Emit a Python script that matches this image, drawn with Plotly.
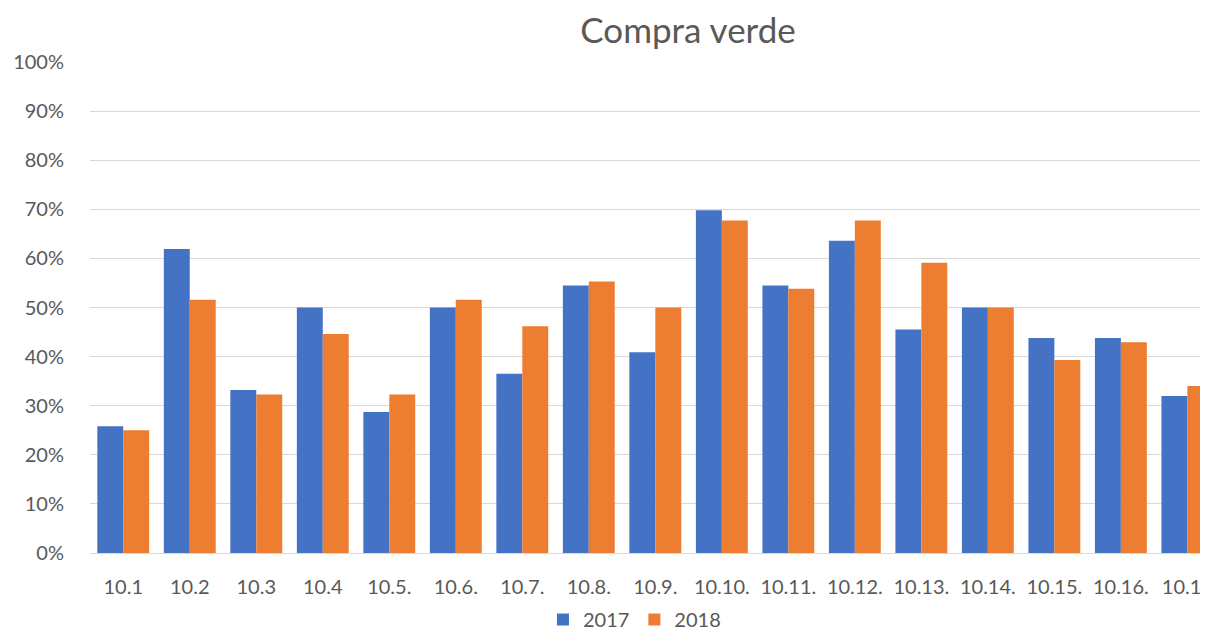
import plotly.graph_objects as go

categories = ["10.1", "10.2", "10.3", "10.4", "10.5.", "10.6.", "10.7.", "10.8.", "10.9.",
              "10.10.", "10.11.", "10.12.", "10.13.", "10.14.", "10.15.", "10.16.", "10.17"]
values_2017 = [0.258, 0.619, 0.332, 0.50, 0.287, 0.50, 0.365, 0.545, 0.409,
               0.698, 0.545, 0.636, 0.455, 0.50, 0.438, 0.438, 0.32]
values_2018 = [0.25, 0.516, 0.323, 0.446, 0.323, 0.516, 0.462, 0.553, 0.50,
               0.677, 0.538, 0.677, 0.591, 0.50, 0.393, 0.429, 0.34]
y_ticks = [0, 0.1, 0.2, 0.3, 0.4, 0.5, 0.6, 0.7, 0.8, 0.9, 1.0]
y_tick_labels = ["0%", "10%", "20%", "30%", "40%", "50%", "60%", "70%", "80%", "90%", "100%"]

FONT = "Lato, 'Open Sans', sans-serif"
GREY = "#595959"

fig = go.Figure()
fig.add_trace(go.Bar(name="2017", x=categories, y=values_2017, marker_color="#4472C4",
                     marker_line_width=0))
fig.add_trace(go.Bar(name="2018", x=categories, y=values_2018, marker_color="#ED7D31",
                     marker_line_width=0))

# page body has an 8px default margin, so the figure is 8px smaller and shifted
fig.update_layout(
    width=1200, height=624,
    margin=dict(l=82, r=0, t=54, b=79, autoexpand=False),
    paper_bgcolor="white", plot_bgcolor="white",
    barmode="group", bargap=0.22, bargroupgap=0,
    title=dict(text="Compra verde", x=0.5667, xanchor="center", xref="container",
               y=0.963, yanchor="middle", yref="container",
               font=dict(family=FONT, size=35, color=GREY)),
    font=dict(family=FONT, size=20, color=GREY),
    legend=dict(orientation="h", x=0.487, xanchor="center", y=0.02, yanchor="middle",
                yref="container", font=dict(size=20, color=GREY), traceorder="normal",
                itemwidth=30),
    xaxis=dict(range=[-0.5, 16.31], showgrid=False, showline=False, ticks="",
               automargin=False, tickfont=dict(size=20, color=GREY), ticklabelstandoff=20),
    yaxis=dict(range=[0, 1.0], tickvals=y_ticks, ticktext=y_tick_labels,
               showgrid=True, gridcolor="#d9d9d9", gridwidth=1, zeroline=True,
               zerolinecolor="#d9d9d9", zerolinewidth=1, showline=False, ticks="",
               automargin=False, tickfont=dict(size=20, color=GREY), ticklabelstandoff=25),
)

fig.write_html("out.html")
